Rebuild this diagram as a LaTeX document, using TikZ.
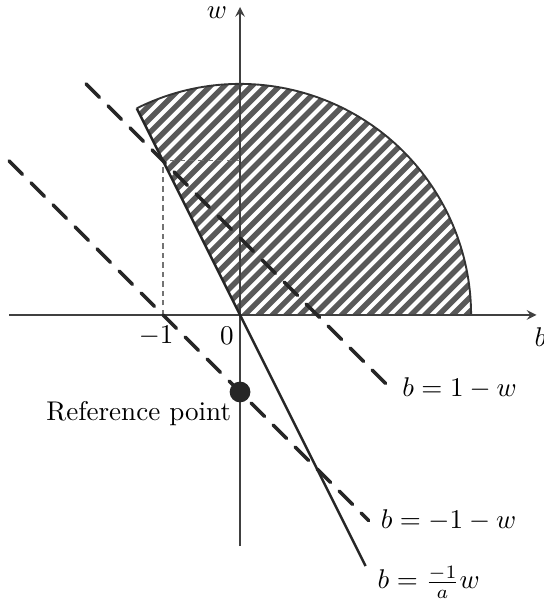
\documentclass[tikz,border=0pt]{standalone}
\usepackage{amsmath, amssymb}
\usepackage{tikz}
\usetikzlibrary{arrows, positioning, calc}

\begin{document}
\begin{tikzpicture}[
    axis/.style={draw=black!75, line width=0.6pt, -stealth},
    boundary/.style={draw=black!85, line width=0.9pt},
    rim/.style={draw=black!80, line width=0.7pt},
    dashline/.style={draw=black!85, line width=1.3pt, dash pattern=on 7pt off 4.5pt, line cap=round},
    guide/.style={draw=black!55, line width=0.4pt, dash pattern=on 2pt off 1.5pt},
    hatch/.style={draw=black!65, line width=2pt},
    lbl/.style={inner sep=2pt},
]
\useasboundingbox (-3.117,-3.74) rectangle (3.935,4.09);

% Points
\coordinate (o) at (0,0);
\coordinate (arcstart) at (116.565:3);
\coordinate (xstart) at (-3,0);
\coordinate (xend) at (3.85,0);
\coordinate (ystart) at (0,-3);
\coordinate (yend) at (0,4);
\coordinate (starta) at (-2,3);
\coordinate (enda) at (1.95,-0.95);
\coordinate (startb) at (-3,2);
\coordinate (endb) at (1.67,-2.67);
\coordinate (endc) at (1.63,-3.26);
\coordinate (corner) at (-1,2);

% Hatched sector
\begin{scope}
    \clip (o) -- (arcstart) arc (116.565:0:3) -- cycle;
    \foreach \c in {-3.3,-3.12,...,4.4}
        \draw [hatch] (-4,-4+\c) -- (4,4+\c);
\end{scope}
\draw [rim] (arcstart) arc (116.565:0:3);

% Axes
\draw [axis] (xstart) -- (xend);
\draw [axis] (ystart) -- (yend);
\node (blabel) [lbl] at (3.9,-0.29) {$b$};
\node (wlabel) [lbl] at (-0.30,3.92) {$w$};
\node (mone) [lbl] at (-1.09,-0.27) {$-1$};
\node (zero) [lbl] at (-0.17,-0.27) {$0$};

% Guides
\draw [guide] (-1,0) -- (corner) -- (0,2);

% Lines
\draw [boundary] (arcstart) -- (endc);
\draw [dashline] (starta) -- (enda);
\draw [dashline] (startb) -- (endb);

% Line labels
\node (linea) [lbl, right=0.08cm of enda] {$b = 1 - w$};
\node (lineb) [lbl, right=0.08cm of endb] {$b = -1 - w$};
\node (linec) [lbl, anchor=west] at ($(endc)+(0.08,-0.21)$) {$b = \frac{-1}{a}w$};

% Reference point
\node (ref) [circle, fill=black!85, minimum size=0.27cm, inner sep=0pt] at (0,-1) {};
\node (reflabel) [lbl, anchor=east] at (-0.04,-1.28) {Reference point};

\end{tikzpicture}
\end{document}
